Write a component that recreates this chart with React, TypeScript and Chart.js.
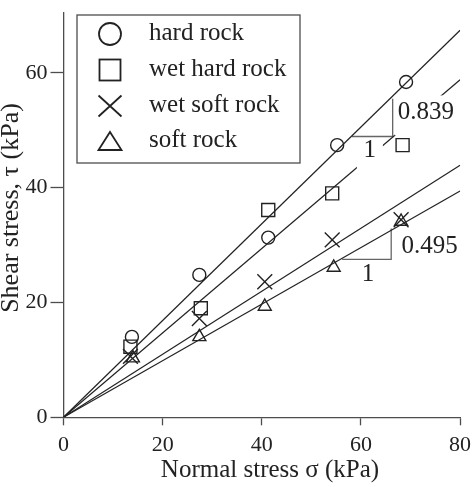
import React, { useEffect, useRef } from 'react';
import { Chart, registerables } from 'chart.js';

Chart.register(...registerables);

// Measured data points (sigma in kPa, tau in kPa)
const hardSigma = [13.8, 27.4, 41.3, 55.2, 69.1];
const hardTau = [14.0, 24.8, 31.3, 47.4, 58.4];
const wetHardSigma = [13.5, 27.7, 41.3, 54.2, 68.4];
const wetHardTau = [12.3, 19.0, 36.1, 39.0, 47.4];
const wetSoftSigma = [13.5, 27.4, 40.6, 54.2, 68.1];
const wetSoftTau = [10.6, 17.2, 23.6, 30.9, 34.4];
const softSigma = [14.0, 27.4, 40.6, 54.5, 68.1];
const softTau = [10.3, 14.0, 19.3, 26.1, 34.1];

// Fitted lines through the origin (end points read at sigma = 80)
const fitSigma = [0, 80];
const hardFit = [0, 67.4];
const wetHardFit = [0, 58.8];
const wetSoftFit = [0, 43.9];
const softFit = [0, 39.4];

// Slope triangles
const hardSlopeSigma = [58.2, 66.4, 66.4];
const hardSlopeTau = [48.9, 48.9, 55.5];
const softSlopeSigma = [56.2, 66.1, 66.1];
const softSlopeTau = [27.5, 27.5, 32.9];

const seriesNames = ['hard rock', 'wet hard rock', 'wet soft rock', 'soft rock'];
const slopeTexts = ['0.839', '1', '0.495', '1'];
const slopeTextSigma = [67.4, 61.8, 68.2, 61.4];
const slopeTextTau = [53.1, 46.5, 29.7, 24.8];

const xTicks = [0, 20, 40, 60, 80];
const yTicks = [0, 20, 40, 60];
const xMax = 80;
const yMax = 70.5;
const xTitle = 'Normal stress σ (kPa)';
const yTitle = 'Shear stress, τ (kPa)';

const ink = '#222222';
const axisInk = '#4d4d4d';
const serif = "'Liberation Serif', 'Times New Roman', serif";

const pts = (xs: number[], ys: number[]) => xs.map((x, i) => ({ x, y: ys[i] }));

export default function App() {
  const ref = useRef<HTMLCanvasElement>(null);

  useEffect(() => {
    document.body.style.margin = '0';
    const canvas = ref.current;
    if (!canvas) return;

    const lineDs = (xs: number[], ys: number[], w: number, color: string) => ({
      data: pts(xs, ys),
      showLine: true,
      borderColor: color,
      borderWidth: w,
      pointRadius: 0,
      fill: false,
    });

    const markerDs = (xs: number[], ys: number[], style: string, r: number) => ({
      data: pts(xs, ys),
      showLine: false,
      pointStyle: style,
      pointRadius: r,
      pointBorderWidth: 1.4,
      pointBorderColor: ink,
      pointBackgroundColor: 'rgba(0,0,0,0)',
      borderColor: ink,
      backgroundColor: 'rgba(0,0,0,0)',
    });

    const annot = {
      id: 'annot',
      afterDatasetsDraw(chart: any) {
        const { ctx, scales } = chart;
        const xs = scales.x;
        const ys = scales.y;
        ctx.save();

        // slope labels with white backgrounds that break the lines
        const boxes = [
          [-3, -17, 63, 40],
          [-13, -10, 26, 30],
          [-3, -12, 60, 24],
          [-8, -12, 16, 24],
        ];
        const aligns = ['left', 'center', 'left', 'center'];
        slopeTexts.forEach((t, i) => {
          const px = xs.getPixelForValue(slopeTextSigma[i]);
          const py = ys.getPixelForValue(slopeTextTau[i]);
          const b = boxes[i];
          ctx.fillStyle = '#ffffff';
          ctx.fillRect(px + b[0], py + b[1], b[2], b[3]);
          ctx.fillStyle = ink;
          ctx.font = `25px ${serif}`;
          ctx.textAlign = aligns[i];
          ctx.textBaseline = 'middle';
          ctx.fillText(t, px, py);
        });

        // legend
        const lx = 77, ly = 15, lw = 223, lh = 148;
        ctx.fillStyle = '#ffffff';
        ctx.fillRect(lx, ly, lw, lh);
        ctx.strokeStyle = axisInk;
        ctx.lineWidth = 1.3;
        ctx.strokeRect(lx, ly, lw, lh);
        const rowsY = [34, 70, 106, 141];
        const mx = 110;
        ctx.strokeStyle = ink;
        ctx.lineWidth = 1.8;
        // circle
        ctx.beginPath();
        ctx.arc(mx, rowsY[0], 11, 0, Math.PI * 2);
        ctx.stroke();
        // square
        ctx.strokeRect(mx - 10.5, rowsY[1] - 10.5, 21, 21);
        // cross
        ctx.beginPath();
        ctx.moveTo(mx - 11.5, rowsY[2] - 10.5);
        ctx.lineTo(mx + 11.5, rowsY[2] + 10.5);
        ctx.moveTo(mx + 11.5, rowsY[2] - 10.5);
        ctx.lineTo(mx - 11.5, rowsY[2] + 10.5);
        ctx.stroke();
        // triangle
        ctx.beginPath();
        ctx.moveTo(mx, rowsY[3] - 9);
        ctx.lineTo(mx + 11.5, rowsY[3] + 9);
        ctx.lineTo(mx - 11.5, rowsY[3] + 9);
        ctx.closePath();
        ctx.stroke();
        ctx.fillStyle = ink;
        ctx.font = `25px ${serif}`;
        ctx.textAlign = 'left';
        ctx.textBaseline = 'middle';
        seriesNames.forEach((n, i) => ctx.fillText(n, 149, rowsY[i] - 1));

        // axis titles
        ctx.font = `25px ${serif}`;
        ctx.textAlign = 'center';
        ctx.textBaseline = 'middle';
        ctx.fillText(xTitle, 270, 470);
        ctx.save();
        ctx.translate(11, 208);
        ctx.rotate(-Math.PI / 2);
        ctx.font = `26px ${serif}`;
        ctx.fillText(yTitle, 0, 0);
        ctx.restore();

        ctx.restore();
      },
    };

    const chart = new Chart(canvas, {
      type: 'scatter',
      data: {
        datasets: [
          lineDs(fitSigma, hardFit, 1.2, ink),
          lineDs(fitSigma, wetHardFit, 1.2, ink),
          lineDs(fitSigma, wetSoftFit, 1.2, ink),
          lineDs(fitSigma, softFit, 1.2, ink),
          lineDs(hardSlopeSigma, hardSlopeTau, 1.3, '#666'),
          lineDs(softSlopeSigma, softSlopeTau, 1.3, '#666'),
          markerDs(hardSigma, hardTau, 'circle', 6.5),
          markerDs(wetHardSigma, wetHardTau, 'rect', 9.2),
          markerDs(wetSoftSigma, wetSoftTau, 'crossRot', 10.5),
          markerDs(softSigma, softTau, 'triangle', 7.5),
        ] as any,
      },
      options: {
        animation: false,
        responsive: false,
        maintainAspectRatio: false,
        layout: { padding: { left: 0, top: 12.5, right: 5.3, bottom: 0 } },
        plugins: {
          legend: { display: false },
          tooltip: { enabled: false },
        },
        scales: {
          x: {
            type: 'linear',
            min: 0,
            max: xMax,
            afterBuildTicks: (s: any) => {
              s.ticks = xTicks.map((v) => ({ value: v }));
            },
            afterFit: (s: any) => {
              s.height = 69.7;
              s.paddingLeft = 0;
              s.paddingRight = 0;
            },
            grid: {
              drawOnChartArea: false,
              drawTicks: true,
              tickLength: 8,
              tickWidth: 1.3,
              tickColor: axisInk,
            },
            border: { color: axisInk, width: 1.3 },
            ticks: {
              color: ink,
              font: { family: serif, size: 22 },
              padding: 7,
              maxRotation: 0,
            },
          },
          y: {
            type: 'linear',
            min: 0,
            max: yMax,
            afterBuildTicks: (s: any) => {
              s.ticks = yTicks.map((v) => ({ value: v }));
            },
            afterFit: (s: any) => {
              s.width = 63.5;
              s.paddingTop = 0;
              s.paddingBottom = 0;
            },
            grid: {
              drawOnChartArea: false,
              drawTicks: true,
              tickLength: 13,
              tickWidth: 1.3,
              tickColor: axisInk,
            },
            border: { color: axisInk, width: 1.3 },
            ticks: {
              color: ink,
              font: { family: serif, size: 22 },
              padding: 3,
            },
          },
        },
      },
      plugins: [annot],
    } as any);

    return () => chart.destroy();
  }, []);

  return (
    <div style={{ width: 472, height: 487 }}>
      <canvas ref={ref} width={472} height={487} style={{ display: 'block' }} />
    </div>
  );
}
